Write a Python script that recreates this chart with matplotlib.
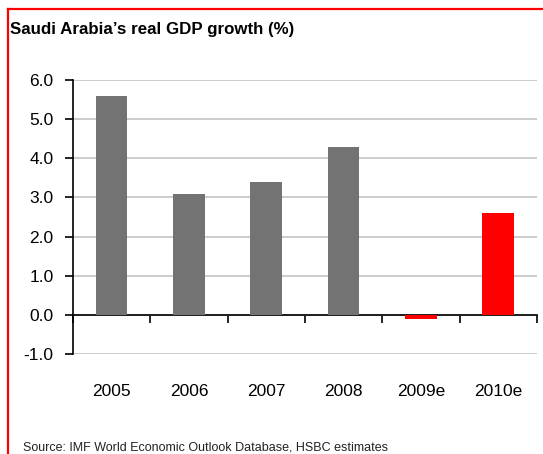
import numpy as np
import matplotlib.pyplot as plt
from matplotlib.lines import Line2D

plt.rcParams['font.family'] = ['Liberation Sans Narrow', 'Liberation Sans', 'DejaVu Sans']

# --- Data ---
years = ["2005", "2006", "2007", "2008", "2009e", "2010e"]
growth = [5.6, 3.1, 3.4, 4.3, -0.1, 2.6]
is_estimate = [False, False, False, False, True, True]

GREY = "#737373"
RED = "#ff0000"
colors = [RED if e else GREY for e in is_estimate]

fig = plt.figure(figsize=(5.43, 4.54), dpi=100)
ax = fig.add_axes([0.1344, 0.2203, 0.8545, 0.6035])

x = np.arange(len(years))
ax.bar(x, growth, width=0.41, color=colors, zorder=3)

# --- Axes styling ---
ax.set_xlim(-0.5, len(years) - 0.5)
ax.set_ylim(-1, 6)
ax.set_yticks(np.arange(-1, 7, 1))
ax.set_yticklabels([f"{v:.1f}" for v in np.arange(-1, 7, 1)], fontsize=12.5)
ax.yaxis.grid(True, color="#c8c8c8", linewidth=1.3, zorder=0)
ax.tick_params(axis="y", direction="out", length=6, width=1.2, pad=8)

ax.spines["top"].set_visible(False)
ax.spines["right"].set_visible(False)
ax.spines["left"].set_linewidth(1.2)
ax.spines["bottom"].set_position(("data", 0))
ax.spines["bottom"].set_linewidth(1.2)

ax.set_xticks(x)
ax.set_xticklabels(years, fontsize=12.5)
ax.set_xticks(np.arange(-0.5, len(years)), minor=True)
ax.tick_params(axis="x", which="major", length=0, pad=50)
ax.tick_params(axis="x", which="minor", direction="out", length=6, width=1.2)

# --- Title, source and frame ---
fig.text(0.018, 0.934, "Saudi Arabia\u2019s real GDP growth (%)", fontsize=12.2,
         fontweight="bold", va="center", ha="left")
fig.text(0.042, 0.015, "Source: IMF World Economic Outlook Database, HSBC estimates",
         fontsize=9, va="center", ha="left", color="#222222")

fig.add_artist(Line2D([8 / 543, 1], [1 - 9 / 454, 1 - 9 / 454], color=RED, linewidth=1.6))
fig.add_artist(Line2D([8 / 543, 8 / 543], [0, 1 - 9 / 454], color=RED, linewidth=1.6))

fig.savefig("out.png", dpi=100)
